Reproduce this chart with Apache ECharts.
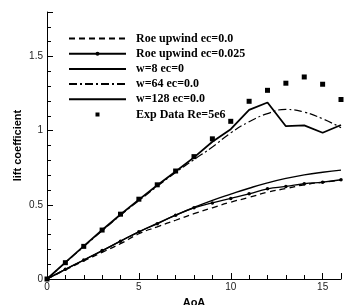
<!DOCTYPE html>
<html>
<head>
<meta charset="utf-8">
<script src="https://cdn.jsdelivr.net/npm/echarts@6/dist/echarts.min.js"></script>
<style>
  html, body { margin: 0; padding: 0; background: #fff; }
  #chart { width: 344px; height: 305px; }
</style>
</head>
<body>
<div id="chart"></div>
<script>
const aoa = [0, 1, 2, 3, 4, 5, 6, 7, 8, 9, 10, 11, 12, 13, 14, 15, 16]
const roeEc0 = [0, 0.062, 0.122, 0.18, 0.238, 0.305, 0.352, 0.396, 0.44, 0.48, 0.518, 0.55, 0.585, 0.61, 0.635, 0.652, 0.666]
const roeEc025 = [0, 0.065, 0.128, 0.192, 0.255, 0.318, 0.372, 0.43, 0.48, 0.513, 0.543, 0.574, 0.608, 0.624, 0.642, 0.653, 0.669]
const w8 = [0, 0.065, 0.128, 0.19, 0.255, 0.318, 0.375, 0.43, 0.482, 0.53, 0.572, 0.612, 0.648, 0.678, 0.702, 0.72, 0.734]
const w64 = [0, 0.11, 0.218, 0.325, 0.43, 0.528, 0.625, 0.718, 0.805, 0.89, 0.985, 1.06, 1.115, 1.143, 1.125, 1.08, 1.02]
const w128 = [0, 0.112, 0.222, 0.33, 0.435, 0.535, 0.632, 0.725, 0.82, 0.925, 1.01, 1.14, 1.19, 1.03, 1.036, 0.986, 1.038]
const expData = [0, 0.11, 0.22, 0.33, 0.437, 0.538, 0.635, 0.728, 0.825, 0.945, 1.063, 1.198, 1.272, 1.32, 1.362, 1.313, 1.21]

const names = ['Roe upwind ec=0.0', 'Roe upwind ec=0.025', 'w=8 ec=0', 'w=64 ec=0.0', 'w=128 ec=0.0', 'Exp Data Re=5e6']
// legend rows whose series have no markers: hide the default circle
const noMarker = [true, false, true, true, true, false]

const pairs = ys => aoa.map((x, i) => [x, ys[i]])

const chart = echarts.init(document.getElementById('chart'))
const axisFont = { fontFamily: 'Liberation Sans', fontSize: 10, color: '#222' }

chart.setOption({
  animation: false,
  grid: { left: 47, right: 3, top: 12, bottom: 26, outerBoundsMode: 'none' },
  legend: {
    orient: 'vertical',
    left: 63,
    top: 27,
    itemWidth: 57,
    itemHeight: 5,
    itemGap: 2.2,
    textStyle: {
      fontFamily: 'Liberation Serif',
      fontWeight: 'bold',
      fontSize: 12,
      lineHeight: 13,
      color: '#000',
      padding: [0, 0, 0, 5]
    },
    data: names.map((n, i) => (noMarker[i] ? { name: n, itemStyle: { opacity: 0 } } : { name: n }))
  },
  xAxis: {
    type: 'value',
    min: 0,
    max: 16,
    interval: 5,
    name: 'AoA',
    nameLocation: 'middle',
    nameGap: 18,
    nameMoveOverlap: false,
    nameTextStyle: { fontFamily: 'Liberation Sans', fontWeight: 'bold', fontSize: 11, color: '#000' },
    axisLine: { lineStyle: { color: '#000', width: 1 } },
    axisTick: { inside: true, length: 6, lineStyle: { color: '#000' } },
    minorTick: { show: true, splitNumber: 5, length: 4, lineStyle: { color: '#000' } },
    axisLabel: Object.assign({ margin: 3, formatter: v => (v % 5 === 0 ? String(v) : '') }, axisFont),
    splitLine: { show: false }
  },
  yAxis: {
    type: 'value',
    min: 0,
    max: 1.8,
    interval: 0.5,
    name: 'lift coefficient',
    nameLocation: 'middle',
    nameGap: 24,
    nameMoveOverlap: false,
    nameTextStyle: { fontFamily: 'Liberation Sans', fontWeight: 'bold', fontSize: 11, color: '#000' },
    axisLine: { show: true, lineStyle: { color: '#000', width: 1 } },
    axisTick: { inside: true, length: 6, lineStyle: { color: '#000' } },
    minorTick: { show: true, splitNumber: 5, length: 4, lineStyle: { color: '#000' } },
    axisLabel: Object.assign({ margin: 4, formatter: v => (Math.abs(v * 2 - Math.round(v * 2)) < 1e-6 ? String(v) : '') }, axisFont),
    splitLine: { show: false }
  },
  series: [
    {
      name: names[0],
      type: 'line',
      data: pairs(roeEc0),
      symbol: 'none',
      smooth: true,
      lineStyle: { color: '#000', width: 1.3, type: [6, 4] },
      itemStyle: { color: '#000' }
    },
    {
      name: names[1],
      type: 'line',
      data: pairs(roeEc025),
      symbol: 'circle',
      symbolSize: 3.5,
      smooth: true,
      lineStyle: { color: '#000', width: 1.3 },
      itemStyle: { color: '#000' }
    },
    {
      name: names[2],
      type: 'line',
      data: pairs(w8),
      symbol: 'none',
      smooth: true,
      lineStyle: { color: '#000', width: 1.4 },
      itemStyle: { color: '#000' }
    },
    {
      name: names[3],
      type: 'line',
      data: pairs(w64),
      symbol: 'none',
      smooth: true,
      lineStyle: { color: '#000', width: 1.2, type: [8, 3, 2, 3] },
      itemStyle: { color: '#000' }
    },
    {
      name: names[4],
      type: 'line',
      data: pairs(w128),
      symbol: 'none',
      lineStyle: { color: '#000', width: 1.8 },
      itemStyle: { color: '#000' }
    },
    {
      name: names[5],
      type: 'line',
      data: pairs(expData),
      symbol: 'rect',
      symbolSize: 5,
      lineStyle: { opacity: 0 },
      itemStyle: { color: '#000' }
    }
  ]
})
</script>
</body>
</html>
